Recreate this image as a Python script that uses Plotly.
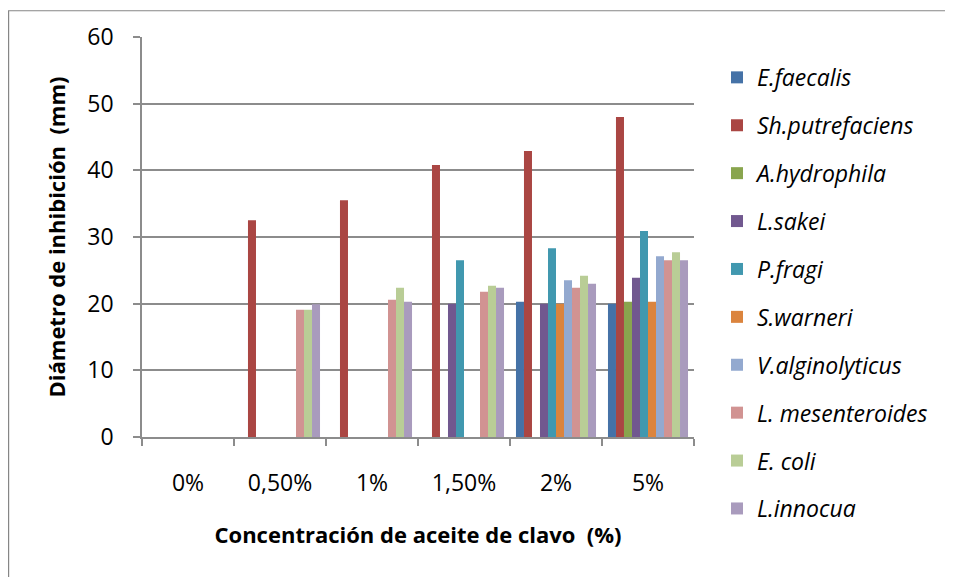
import plotly.graph_objects as go

categories = ["0%", "0,50%", "1%", "1,50%", "2%", "5%"]
series_names = ["E.faecalis", "Sh.putrefaciens", "A.hydrophila", "L.sakei", "P.fragi",
                "S.warneri", "V.alginolyticus", "L. mesenteroides", "E. coli", "L.innocua"]

e_faecalis = [0, 0, 0, 0, 20.3, 20.0]
sh_putrefaciens = [0, 32.5, 35.5, 40.8, 42.9, 48.0]
a_hydrophila = [0, 0, 0, 0, 0, 20.3]
l_sakei = [0, 0, 0, 20.0, 20.0, 23.9]
p_fragi = [0, 0, 0, 26.5, 28.3, 30.9]
s_warneri = [0, 0, 0, 0, 20.0, 20.3]
v_alginolyticus = [0, 0, 0, 0, 23.5, 27.1]
l_mesenteroides = [0, 19.1, 20.6, 21.8, 22.4, 26.5]
e_coli = [0, 19.1, 22.4, 22.7, 24.2, 27.7]
l_innocua = [0, 19.9, 20.3, 22.4, 23.0, 26.5]

values = [e_faecalis, sh_putrefaciens, a_hydrophila, l_sakei, p_fragi,
          s_warneri, v_alginolyticus, l_mesenteroides, e_coli, l_innocua]
colors = ["#4572A7", "#AA4643", "#89A54E", "#71588F", "#4198AF",
          "#DB843D", "#93A9CF", "#D19392", "#B9CD96", "#A99BBD"]

FONT = "Open Sans"
W, H = 953, 577
OFF = 8  # page body margin: figure is drawn 8px right/down in the window
# target screen positions of the plot area
SX0, SX1, SY0, SY1 = 142, 694, 35, 437
ML = SX0 - OFF
MT = SY0 - OFF
pw = SX1 - SX0
ph = SY1 - SY0
MR = W - ML - pw
MB = H - MT - ph

def px_x(sx):
    return (sx - OFF - ML) / pw

def px_y(sy):
    return (MT + ph - (sy - OFF)) / ph

fig = go.Figure()
for i, (name, vals) in enumerate(zip(series_names, values)):
    fig.add_trace(go.Bar(
        x=categories, y=vals, name=name,
        marker=dict(color=colors[i], line=dict(width=0)),
        legendgroup=f"g{i}",
    ))

grid_col = "#8C8C8C"
fig.update_layout(
    width=W, height=H,
    margin=dict(l=ML, r=MR, t=MT, b=MB),
    paper_bgcolor="white", plot_bgcolor="white",
    barmode="group", bargap=0.13, bargroupgap=0,
    font=dict(family=FONT, color="#000000"),
    showlegend=True,
    legend=dict(
        x=px_x(717), y=px_y(54), xanchor="left", yanchor="top",
        font=dict(family=FONT, size=23, style="italic", color="#000000"),
        tracegroupgap=15, bgcolor="rgba(0,0,0,0)", maxheight=545,
    ),
    xaxis=dict(
        type="category",
        showline=True, linecolor=grid_col, linewidth=1.5,
        ticks="outside", tickson="boundaries", ticklen=7, tickcolor=grid_col, tickwidth=1.5,
        tickfont=dict(family=FONT, size=23, color="#000000"),
        ticklabelstandoff=25,
        title=dict(text="Concentración de aceite de clavo  (%)",
                   font=dict(family=FONT, size=22, weight="bold", color="#000000"),
                   standoff=30),
        showgrid=False,
    ),
    yaxis=dict(
        range=[0, 60], dtick=10, tick0=0,
        showline=True, linecolor=grid_col, linewidth=1.5,
        ticks="outside", ticklen=7, tickcolor=grid_col, tickwidth=1.5,
        tickfont=dict(family=FONT, size=23, color="#000000"),
        ticklabelstandoff=15,
        showgrid=True, gridcolor=grid_col, gridwidth=1.5,
        zeroline=False,
        title=dict(text="Diámetro de inhibición  (mm)",
                   font=dict(family=FONT, size=22, weight="bold", color="#000000"),
                   standoff=16),
    ),
    shapes=[dict(
        type="rect", xref="paper", yref="paper",
        x0=px_x(OFF + 0.6), x1=px_x(W + 40), y0=px_y(H + 40), y1=px_y(OFF + 0.6),
        line=dict(color="#868686", width=1.2), fillcolor="rgba(0,0,0,0)", layer="below",
    )],
)

fig.write_html("out.html")
